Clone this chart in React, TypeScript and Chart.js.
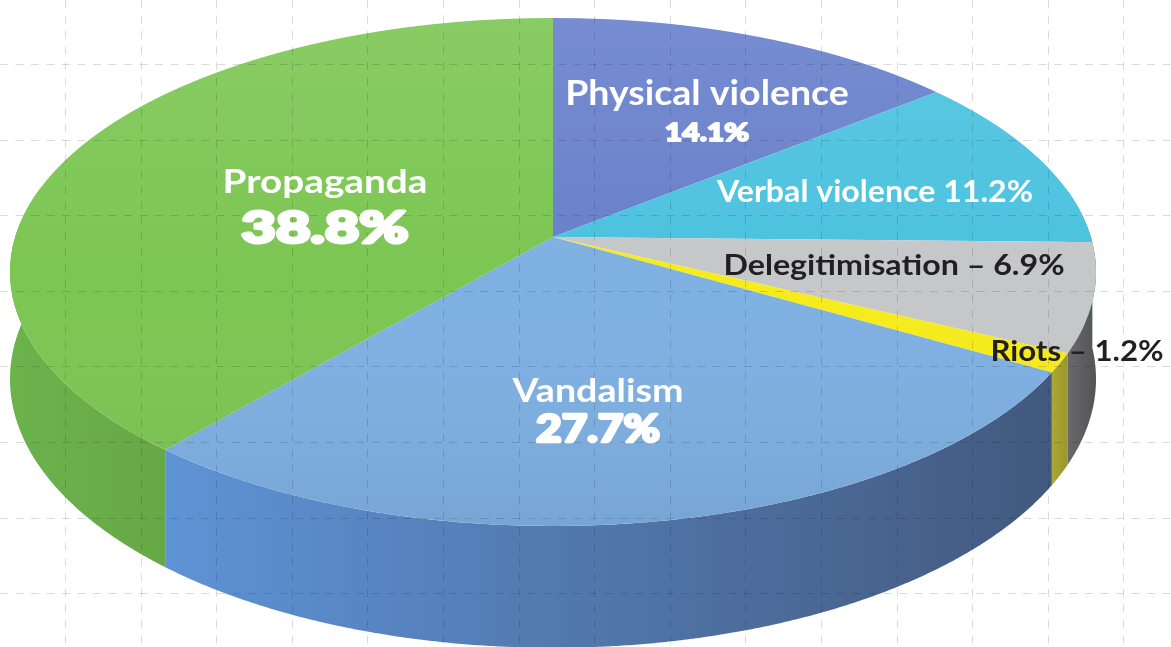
import { useEffect, useRef } from 'react';
import { Chart, registerables } from 'chart.js';

Chart.register(...registerables);

// ---- data ----
const categories = ['Physical violence', 'Verbal violence', 'Delegitimisation', 'Riots', 'Vandalism', 'Propaganda'];
const shares = [14.1, 11.2, 6.9, 1.2, 27.7, 38.8];
const labelStyles = ['stack', 'inline', 'dash', 'dash', 'stack', 'stack'];

// ---- styles ----
const topColors = ['#6880cb', '#4bc2df', '#c6c7c9', '#f6eb1b', '#7eb0e2', '#7cc653'];
const sideLight = ['#5468b0', '#3ba6c2', '#6a6a6c', '#aaa735', '#5e93d6', '#6cb34c'];
const sideDark = ['#4a5c9c', '#2f8aa3', '#545456', '#9a982e', '#43597e', '#66a846'];
const labelColors = ['#ffffff', '#ffffff', '#231f20', '#231f20', '#ffffff', '#ffffff'];

// perspective view of the disc (screen px)
const VIEW = { cx: 553, apexY: 237, backY: 18, frontY: 526, halfWidth: 543, depth: 105 };
const GRID = { x0: 65, y0: 64, step: 75.6, dash: [8, 7.5], color: 'rgba(0,0,0,0.14)' };

// label placement: centre x, baseline y, cap height, target width (name line / value line)
const labelLayout = [
  { cx: 707, nameY: 105, nameCap: 25, nameW: 281, valY: 142, valCap: 20, valW: 84 },
  { cx: 875, nameY: 202, nameCap: 22, nameW: 316 },
  { cx: 894, nameY: 275, nameCap: 20, nameW: 338 },
  { cx: 1077, nameY: 361, nameCap: 21, nameW: 170 },
  { cx: 598, nameY: 402, nameCap: 24, nameW: 171, valY: 443, valCap: 30, valW: 124 },
  { cx: 325, nameY: 193, nameCap: 23, nameW: 201, valY: 245, valCap: 35, valW: 167 },
];

const NAME_FONT = (px: number) => `bold ${px}px Lato, "Open Sans", "DejaVu Sans", sans-serif`;
const VALUE_FONT = (px: number) => `900 ${px}px Lato, Roboto, "DejaVu Sans", sans-serif`;

// projective constants derived from the view
const K = ((VIEW.apexY - VIEW.backY) - (VIEW.frontY - VIEW.apexY)) / (VIEW.frontY - VIEW.backY);
const B = (VIEW.apexY - VIEW.backY) * (1 - K);
const A = VIEW.halfWidth * Math.sqrt(1 - K * K);

function project(u: number, v: number) {
  const den = 1 + K * v;
  return { X: VIEW.cx + (A * u) / den, Y: VIEW.apexY + (B * v) / den, D: VIEW.depth / den };
}

function drawFitted(ctx: CanvasRenderingContext2D, text: string, cx: number, baseline: number, font: string, width: number, color: string, stroke = 0) {
  ctx.save();
  ctx.font = font;
  ctx.fillStyle = color;
  ctx.strokeStyle = color;
  ctx.textAlign = 'center';
  ctx.textBaseline = 'alphabetic';
  const m = ctx.measureText(text);
  const w = (m.actualBoundingBoxLeft + m.actualBoundingBoxRight) || m.width;
  const k = Math.max(0.7, Math.min(1.4, (width - stroke) / w));
  ctx.translate(cx, baseline - stroke / 2);
  ctx.scale(k, 1);
  if (stroke > 0) {
    ctx.lineWidth = stroke;
    ctx.lineJoin = 'round';
    ctx.strokeText(text, 0, 0);
  }
  ctx.fillText(text, 0, 0);
  ctx.restore();
}

const pie3d = {
  id: 'pie3d',
  beforeDatasetsDraw(chart: any) {
    const ctx: CanvasRenderingContext2D = chart.ctx;
    const arcs = chart.getDatasetMeta(0).data;
    if (!arcs.length) return;
    const { x, y, outerRadius: r } = arcs[0];
    const W = chart.width;

    // ---- side walls (front part of the rim) ----
    const lo = -0.2, hi = Math.PI + 0.2;
    const walls: any[] = [];
    arcs.forEach((arc: any, i: number) => {
      const a0 = Math.max(arc.startAngle, lo);
      const a1 = Math.min(arc.endAngle, hi);
      if (a1 <= a0) return;
      walls.push({ i, a0, a1, mid: Math.sin((a0 + a1) / 2) });
    });
    walls.sort((p, q) => p.mid - q.mid);
    walls.forEach(({ i, a0, a1 }) => {
      const n = Math.max(2, Math.ceil((a1 - a0) / 0.005));
      const top: any[] = [];
      for (let j = 0; j <= n; j++) {
        const a = a0 + ((a1 - a0) * j) / n;
        top.push(project(Math.cos(a), Math.sin(a)));
      }
      let minX = Infinity, maxX = -Infinity;
      ctx.beginPath();
      top.forEach((p, j) => {
        if (j === 0) ctx.moveTo(p.X, p.Y); else ctx.lineTo(p.X, p.Y);
        minX = Math.min(minX, p.X);
        maxX = Math.max(maxX, p.X);
      });
      for (let j = top.length - 1; j >= 0; j--) ctx.lineTo(top[j].X, top[j].Y + top[j].D);
      ctx.closePath();
      const g = ctx.createLinearGradient(minX, 0, maxX + 0.01, 0);
      g.addColorStop(0, sideLight[i]);
      g.addColorStop(1, sideDark[i]);
      ctx.fillStyle = g;
      ctx.fill();
    });

    // ---- top face: each screen row uses the local affine part of the perspective ----
    for (let row = Math.floor(VIEW.backY) - 1; row <= Math.ceil(VIEW.frontY) + 1; row++) {
      const yc = row + 0.5 - VIEW.apexY;
      const v = yc / (B - K * yc);
      const den = 1 + K * v;
      const s = A / den;
      const fy = B / (den * den);
      ctx.save();
      ctx.beginPath();
      ctx.rect(0, row, W, 1);
      ctx.clip();
      ctx.setTransform(s / r, 0, 0, fy / r, VIEW.cx - (s / r) * x, row + 0.5 - (fy / r) * (y + v * r));
      arcs.forEach((arc: any) => arc.draw(ctx));
      ctx.restore();
    }

    // soft light/shade over the top face
    const ecy = (VIEW.backY + VIEW.frontY) / 2;
    const ery = (VIEW.frontY - VIEW.backY) / 2;
    const g = ctx.createLinearGradient(0, VIEW.backY, 0, VIEW.frontY);
    g.addColorStop(0, 'rgba(255,255,255,0.10)');
    g.addColorStop(0.5, 'rgba(255,255,255,0)');
    g.addColorStop(1, 'rgba(0,0,0,0.06)');
    ctx.beginPath();
    ctx.ellipse(VIEW.cx, ecy, VIEW.halfWidth, ery, 0, 0, Math.PI * 2);
    ctx.fillStyle = g;
    ctx.fill();
    return false;
  },
  afterDraw(chart: any) {
    const ctx: CanvasRenderingContext2D = chart.ctx;
    // dashed background grid (translucent, also over the pie)
    const W = chart.width;
    const H = chart.height;
    ctx.save();
    ctx.strokeStyle = GRID.color;
    ctx.lineWidth = 1;
    ctx.setLineDash(GRID.dash);
    for (let gx = GRID.x0; gx < W; gx += GRID.step) {
      const px = Math.round(gx) + 0.5;
      ctx.beginPath();
      ctx.moveTo(px, 0);
      ctx.lineTo(px, H);
      ctx.stroke();
    }
    for (let gy = GRID.y0; gy < H; gy += GRID.step) {
      const py = Math.round(gy) + 0.5;
      ctx.beginPath();
      ctx.moveTo(0, py);
      ctx.lineTo(W, py);
      ctx.stroke();
    }
    ctx.restore();

    const labels: string[] = chart.data.labels;
    const values: number[] = chart.data.datasets[0].data;
    labels.forEach((name, i) => {
      const L: any = labelLayout[i];
      const v = `${values[i].toFixed(1)}%`;
      const col = labelColors[i];
      const style = labelStyles[i];
      if (style === 'stack') {
        drawFitted(ctx, name, L.cx, L.nameY, NAME_FONT(L.nameCap / 0.72), L.nameW, col);
        const sw = Math.max(1.5, L.valCap * 0.09);
        drawFitted(ctx, v, L.cx, L.valY, VALUE_FONT((L.valCap - sw) / 0.72), L.valW, col, sw);
      } else if (style === 'inline') {
        drawFitted(ctx, `${name} ${v}`, L.cx, L.nameY, NAME_FONT(L.nameCap / 0.72), L.nameW, col);
      } else {
        drawFitted(ctx, `${name} \u2013 ${v}`, L.cx, L.nameY, NAME_FONT(L.nameCap / 0.72), L.nameW, col);
      }
    });
  },
};

export default function App() {
  const ref = useRef<HTMLCanvasElement | null>(null);
  useEffect(() => {
    document.body.style.margin = '0';
    const canvas = ref.current;
    if (!canvas) return;
    const chart = new Chart(canvas, {
      type: 'pie',
      data: {
        labels: categories,
        datasets: [{ data: shares, backgroundColor: topColors, borderWidth: 0 }],
      },
      options: {
        responsive: false,
        animation: false,
        events: [],
        layout: { padding: 0 },
        plugins: { legend: { display: false }, tooltip: { enabled: false } },
      },
      plugins: [pie3d as any],
    });
    return () => chart.destroy();
  }, []);
  return (
    <div style={{ position: 'absolute', left: 0, top: 0, width: 1171, height: 647, background: '#ffffff' }}>
      <canvas ref={ref} width={1171} height={647} style={{ display: 'block' }} />
    </div>
  );
}
